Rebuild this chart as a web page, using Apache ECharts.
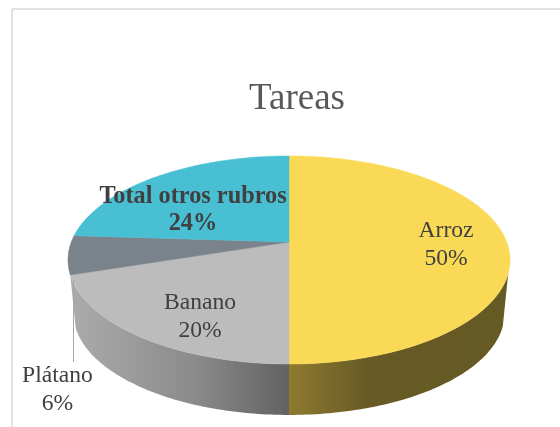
<!DOCTYPE html>
<html><head><meta charset="utf-8">
<style>html,body{margin:0;padding:0;background:#fff}#c{width:560px;height:427px}</style>
<script src="https://cdn.jsdelivr.net/npm/echarts@6/dist/echarts.min.js"></script>
</head><body><div id="c"></div>
<script>
const categories = ['Arroz', 'Banano', 'Plátano', 'Total otros rubros'];
const values = [50, 20, 6, 24];
const titleText = 'Tareas';

const topColors = ['#F9D955', '#BCBCBC', '#7A838B', '#48BFD3'];
const sideStops = [
  [[0, '#8E7A30'], [0.36, '#675A25'], [1, '#665A24']],
  [[0, '#ABABAB'], [0.55, '#8C8C8C'], [1, '#626262']],
  null, null
];
const labelCenters = [[446, 245], [200, 317], [57.5, 390], [193, 210]];
const boldLabel = [false, false, false, true];

const CX = 289, CY = 242, R = 217.7, H = 100.9, K = 0.173;
const DEPTH_SCALE = 0.975, DEPTH_OFF = 54;
const VIS_FROM = 107, VIS_TO = 288;

function project(deg, scale, off) {
  const t = deg * Math.PI / 180, u = Math.sin(t), v = -Math.cos(t), d = 1 - K * v;
  return [CX + scale * R * u / d, CY + off + scale * H * v / d];
}
function arc(a0, a1, scale, off) {
  const pts = [], n = Math.max(2, Math.ceil(Math.abs(a1 - a0)));
  for (let i = 0; i <= n; i++) pts.push(project(a0 + (a1 - a0) * i / n, scale, off));
  return pts;
}
const total = values.reduce((a, b) => a + b, 0);
function sliceAngles(i) {
  let s = 0;
  for (let k = 0; k < i; k++) s += values[k];
  return [s / total * 360, (s + values[i]) / total * 360];
}

function renderSlice(params) {
  const i = params.dataIndex, [a0, a1] = sliceAngles(i), children = [];
  const s0 = Math.max(a0, VIS_FROM), s1 = Math.min(a1, VIS_TO);
  if (sideStops[i] && s1 > s0) {
    const pts = arc(s0, s1, 1, 0).concat(arc(s1, s0, DEPTH_SCALE, DEPTH_OFF));
    children.push({
      type: 'polygon', shape: { points: pts },
      style: { fill: new echarts.graphic.LinearGradient(0, 0, 1, 0,
        sideStops[i].map(s => ({ offset: s[0], color: s[1] }))) }
    });
  }
  return { type: 'group', children: children };
}
function renderTop(params) {
  const i = params.dataIndex, [a0, a1] = sliceAngles(i);
  const pts = [[CX, CY]].concat(arc(a0, a1, 1, 0));
  return { type: 'polygon', shape: { points: pts },
    style: { fill: topColors[i], stroke: topColors[i], lineWidth: 0.5 } };
}
function renderLabel(params) {
  const i = params.dataIndex, c = labelCenters[i];
  return { type: 'text', x: c[0], y: c[1],
    style: {
      text: categories[i] + '\n' + values[i] + '%',
      fontFamily: '"Liberation Serif"', fontSize: boldLabel[i] ? 24.3 : 23.6, lineHeight: 27.5,
      fontWeight: boldLabel[i] ? 'bold' : 'normal',
      fill: '#404040', align: 'center', verticalAlign: 'middle'
    } };
}
const seriesData = categories.map((n, i) => ({ name: n, value: values[i] }));
const chart = echarts.init(document.getElementById('c'), null, { renderer: 'canvas' });
chart.setOption({
  animation: false,
  backgroundColor: '#fff',
  title: { text: titleText, left: 292, top: 94, textAlign: 'center', textVerticalAlign: 'middle',
    textStyle: { fontFamily: '"Liberation Serif"', fontSize: 37, fontWeight: 'normal', color: '#595959' } },
  graphic: [
    { type: 'line', shape: { x1: 12, y1: 9, x2: 12, y2: 427 }, style: { stroke: '#D9D9D9', lineWidth: 1.5 }, silent: true },
    { type: 'line', shape: { x1: 12, y1: 9, x2: 560, y2: 9 }, style: { stroke: '#D9D9D9', lineWidth: 1.5 }, silent: true },
    { type: 'line', z: 10, shape: { x1: 73.5, y1: 280, x2: 73.5, y2: 362 }, style: { stroke: '#A6A6A6', lineWidth: 1 }, silent: true }
  ],
  series: [
    { type: 'custom', coordinateSystem: 'none', silent: true, z: 1, data: seriesData, renderItem: renderSlice },
    { type: 'custom', coordinateSystem: 'none', silent: true, z: 2, data: seriesData, renderItem: renderTop },
    { type: 'custom', coordinateSystem: 'none', silent: true, z: 3, data: seriesData, renderItem: renderLabel }
  ]
});
</script></body></html>
